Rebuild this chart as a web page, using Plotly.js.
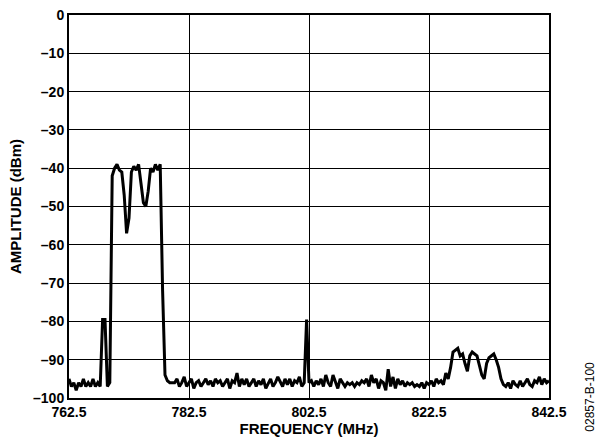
<!DOCTYPE html>
<html>
<head>
<meta charset="utf-8">
<script src="https://cdn.plot.ly/plotly-3.0.1.min.js"></script>
<style>html,body{margin:0;padding:0;background:#fff;}#chart{width:599px;height:444px;}</style>
</head>
<body>
<div id="chart"></div>
<script>
// Sweep: start frequency and step (MHz)
const startFreq = 762.5;
const stepFreq = 0.4;
// Amplitude (dBm)
const amplitude = [
 -95,-97,-96,-98,-96,-97,-95,-97,-96,-97,
 -95,-97,-96,-97,-79.5,-79.5,-97,-96,-42,-40,
 -39,-40.5,-41,-47,-57,-53,-41,-39.5,-40.5,-39,
 -44,-49,-50,-46,-40,-41,-39,-40.5,-39,-72,
 -94,-95.5,-96,-96,-96,-95,-97,-96,-94.5,-97,
 -96,-95,-97.5,-96,-95.5,-97,-96,-95,-96.5,-95.5,
 -97,-95,-96,-95.5,-97,-96,-95,-97.5,-95.5,-96,
 -93.5,-97,-95,-96.5,-95,-97,-96,-95,-97,-95.5,
 -96.5,-95,-97.5,-96,-95,-97,-96,-94.5,-96,-97,
 -95,-96.5,-95,-97,-95.5,-96,-94.5,-97,-96,-79.5,
 -96,-95.5,-97,-95.5,-96.5,-95,-97,-94,-96,-97,
 -94,-95.5,-97.5,-95,-96,-97,-96,-96.5,-96,-97,
 -96,-96.5,-95.5,-96,-95,-97,-94,-96,-95,-97.5,
 -95.5,-96,-98,-92.5,-97,-94.5,-97.5,-95,-96.5,-95.5,
 -97,-96,-96.5,-96,-97,-96.5,-97,-96,-97.5,-96,
 -96.5,-95.5,-97,-95,-96,-95.5,-96.5,-93.5,-95,-92,
 -88,-87.5,-87,-89,-88.5,-91,-93,-89,-88,-88.5,
 -89,-91.5,-94,-95,-91,-89.5,-89,-88.5,-90,-92,
 -95,-96.5,-97,-96,-97.5,-95.5,-96.5,-97,-95.5,-97,
 -96,-95,-96.5,-97,-95.5,-96,-94.5,-96.5,-95,-96,
 -95.5
];
const xTickVals = [762.5, 782.5, 802.5, 822.5, 842.5];
const xTickText = ["762.5", "782.5", "802.5", "822.5", "842.5"];
const yTickVals = [0, -10, -20, -30, -40, -50, -60, -70, -80, -90, -100];
const yTickText = ["0", "\u201310", "\u201320", "\u201330", "\u201340", "\u201350", "\u201360", "\u201370", "\u201380", "\u201390", "\u2013100"];

const fontFam = "Liberation Sans, Arial, sans-serif";

Plotly.newPlot('chart', [{
  type: 'scatter',
  mode: 'lines',
  x0: startFreq,
  dx: stepFreq,
  y: amplitude,
  line: {color: '#000', width: 3},
  hoverinfo: 'skip'
}], {
  width: 599, height: 444,
  margin: {l: 69, r: 50, t: 15, b: 46},
  paper_bgcolor: '#fff', plot_bgcolor: '#fff',
  showlegend: false,
  font: {family: fontFam, color: '#000'},
  xaxis: {
    range: [762.5, 842.5],
    tickvals: xTickVals, ticktext: xTickText,
    showgrid: true, gridcolor: '#000', gridwidth: 1,
    showline: true, linecolor: '#000', linewidth: 2, mirror: true,
    ticks: '', zeroline: false,
    tickfont: {family: fontFam, size: 14, weight: 'bold', color: '#000'},
    title: {text: 'FREQUENCY (MHz)', font: {family: fontFam, size: 15, weight: 'bold', color: '#000'}, standoff: 5}
  },
  yaxis: {
    range: [-100, 0],
    tickvals: yTickVals, ticktext: yTickText,
    showgrid: true, gridcolor: '#000', gridwidth: 1,
    showline: true, linecolor: '#000', linewidth: 2, mirror: true,
    ticks: '', zeroline: false,
    tickfont: {family: fontFam, size: 14, weight: 'bold', color: '#000'},
    title: {text: 'AMPLITUDE (dBm)', font: {family: fontFam, size: 15, weight: 'bold', color: '#000'}, standoff: 8}
  },
  annotations: [{
    text: '02857-B-100', xref: 'paper', yref: 'paper',
    x: 1.085, y: 0.003, xanchor: 'center', yanchor: 'middle',
    textangle: -90, showarrow: false,
    font: {family: fontFam, size: 12, color: '#000'}
  }]
}, {displayModeBar: false, staticPlot: true});
</script>
</body>
</html>
